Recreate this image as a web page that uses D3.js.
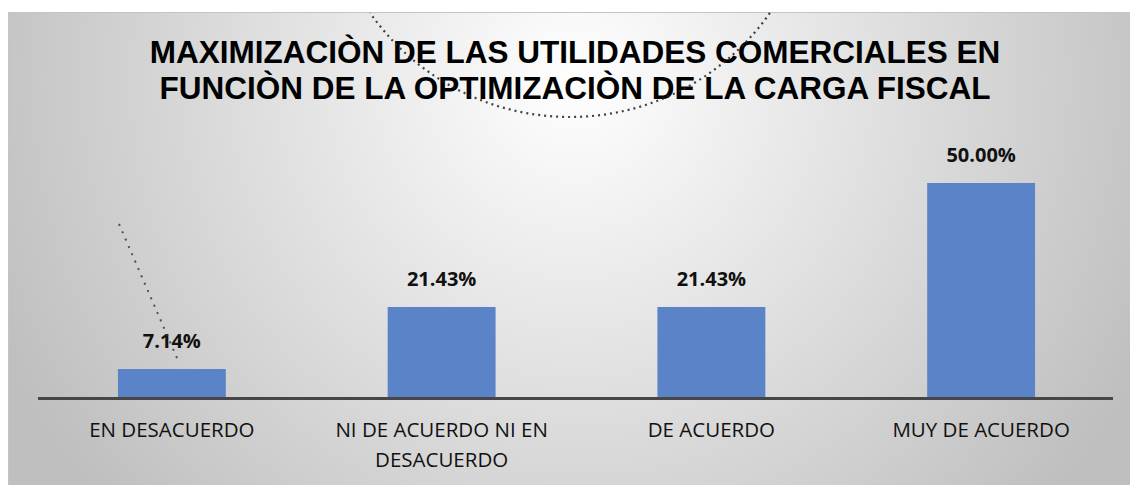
<!DOCTYPE html>
<html>
<head>
<meta charset="utf-8">
<script src="https://cdn.jsdelivr.net/npm/d3@7"></script>
<style>
  body { margin: 0; background: #fff; }
  svg { display: block; }
</style>
</head>
<body>
<div id="chart"></div>
<script>
// data
const categorias = ["EN DESACUERDO", "NI DE ACUERDO NI EN DESACUERDO", "DE ACUERDO", "MUY DE ACUERDO"]
const porcentajes = [7.14, 21.43, 21.43, 50.00]
const etiquetas = ["7.14%", "21.43%", "21.43%", "50.00%"]
const lineasCategoria = [["EN DESACUERDO"], ["NI DE ACUERDO NI EN", "DESACUERDO"], ["DE ACUERDO"], ["MUY DE ACUERDO"]]
const titulo = ["MAXIMIZACIÒN DE LAS UTILIDADES COMERCIALES EN", "FUNCIÒN DE LA OPTIMIZACIÒN DE LA CARGA FISCAL"]

var width = 1130,
    height = 485

var svg = d3.select("#chart")
  .append("svg")
    .attr("width", width)
    .attr("height", height)

// radial gradient background like the excel chart area
var defs = svg.append("defs")
var grad = defs.append("radialGradient")
    .attr("id", "fondo")
    .attr("gradientUnits", "userSpaceOnUse")
    .attr("cx", 575).attr("cy", 80).attr("r", 630)
grad.append("stop").attr("offset", "0%").attr("stop-color", "#ffffff")
grad.append("stop").attr("offset", "100%").attr("stop-color", "#bfbfbf")

svg.append("rect")
    .attr("x", 8.5)
    .attr("y", 12.5)
    .attr("width", width)
    .attr("height", height)
    .attr("fill", "url(#fondo)")
    .attr("stroke", "#c4c4c4")
    .attr("stroke-width", 1)

// scales
var x = d3.scaleBand()
    .domain(categorias)
    .range([37, 1116])
    .paddingInner(0.6)
    .paddingOuter(0.3)

var y = d3.scaleLinear()
    .domain([0, 50])
    .range([400, 183])

// title
svg.append("g")
  .selectAll("text")
  .data(titulo)
  .enter()
  .append("text")
    .attr("x", 575)
    .attr("y", (d, i) => 63 + i * 36)
    .attr("text-anchor", "middle")
    .style("font-family", "'Liberation Sans', Arial, sans-serif")
    .style("font-weight", "bold")
    .style("font-size", "31.5px")
    .attr("fill", "#000")
    .text(d => d)

// bars
svg.append("g")
  .selectAll("rect")
  .data(porcentajes)
  .enter()
  .append("rect")
    .attr("x", (d, i) => x(categorias[i]))
    .attr("y", d => y(d))
    .attr("width", x.bandwidth())
    .attr("height", d => y(0) - y(d))
    .attr("fill", "#5b83c8")

// value labels
svg.append("g")
  .selectAll("text")
  .data(porcentajes)
  .enter()
  .append("text")
    .attr("x", (d, i) => x(categorias[i]) + x.bandwidth() / 2)
    .attr("y", d => y(d) - 21)
    .attr("text-anchor", "middle")
    .style("font-family", "'Open Sans', sans-serif")
    .style("font-weight", "bold")
    .style("font-size", "20px")
    .attr("fill", "#111")
    .text((d, i) => etiquetas[i])

// axis line
var xr = x.range()
svg.append("line")
    .attr("x1", xr[0] + 1)
    .attr("x2", xr[1] - 3)
    .attr("y1", 398.5)
    .attr("y2", 398.5)
    .attr("stroke", "#464646")
    .attr("stroke-width", 3)

// category labels (wrapped like the original)
var cat = svg.append("g")
  .selectAll("text")
  .data(categorias)
  .enter()
  .append("text")
    .attr("text-anchor", "middle")
    .style("font-family", "'Open Sans', sans-serif")
    .style("font-size", "20.5px")
    .attr("fill", "#111")

cat.selectAll("tspan")
  .data((d, i) => lineasCategoria[i].map(t => ({t: t, c: d})))
  .enter()
  .append("tspan")
    .attr("x", d => x(d.c) + x.bandwidth() / 2)
    .attr("y", (d, j) => 437 + j * 30)
    .text(d => d.t)

// scanned stamp marks that show over the title
var arco = d3.path()
arco.arc(570, -127, 244, Math.PI * 35 / 180, Math.PI * 145 / 180)
svg.append("path")
    .attr("d", arco.toString())
    .attr("fill", "none")
    .attr("stroke", "#222")
    .attr("stroke-width", 2.2)
    .attr("stroke-dasharray", "2,4")
    .attr("opacity", 0.85)

svg.append("line")
    .attr("x1", 119).attr("y1", 224)
    .attr("x2", 177).attr("y2", 358)
    .attr("stroke", "#333")
    .attr("stroke-width", 2)
    .attr("stroke-dasharray", "2,6")
    .attr("opacity", 0.8)
</script>
</body>
</html>
